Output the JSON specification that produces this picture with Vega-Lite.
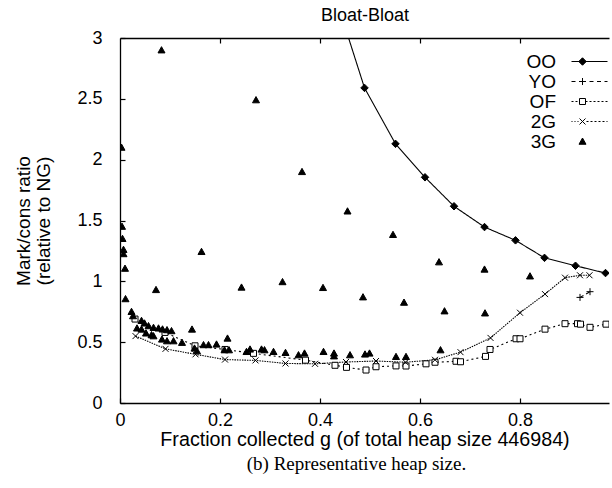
{
  "$schema": "https://vega.github.io/schema/vega-lite/v6.json",
  "width": 489,
  "height": 365,
  "autosize": {"type": "none"},
  "padding": {"left": 120, "top": 38, "right": 3, "bottom": 85},
  "title": {"text": "(b) Representative heap size.", "orient": "bottom", "font": "Liberation Serif", "fontSize": 19, "fontWeight": "normal", "color": "black", "anchor": "middle", "dx": -8, "offset": 6},
  "config": {
    "view": {"stroke": null},
    "axis": {"labelFont": "Liberation Sans", "titleFont": "Liberation Sans", "labelColor": "black", "titleColor": "black", "domainColor": "black", "tickColor": "black", "domainWidth": 1.3, "tickWidth": 1.2, "grid": false, "titleFontWeight": "normal", "labelFlush": false}
  },
  "data": {"values": [
    {"s": "OO", "x": 0.43, "y": 3.35}, {"s": "OO", "x": 0.489, "y": 2.59}, {"s": "OO", "x": 0.551, "y": 2.13}, {"s": "OO", "x": 0.61, "y": 1.855}, {"s": "OO", "x": 0.668, "y": 1.617}, {"s": "OO", "x": 0.729, "y": 1.446}, {"s": "OO", "x": 0.791, "y": 1.337}, {"s": "OO", "x": 0.849, "y": 1.193}, {"s": "OO", "x": 0.911, "y": 1.128}, {"s": "OO", "x": 0.971, "y": 1.068},
    {"s": "YO", "x": 0.92, "y": 0.868}, {"s": "YO", "x": 0.94, "y": 0.915},
    {"s": "OF", "x": 0.03, "y": 0.69}, {"s": "OF", "x": 0.09, "y": 0.58}, {"s": "OF", "x": 0.15, "y": 0.47}, {"s": "OF", "x": 0.21, "y": 0.44}, {"s": "OF", "x": 0.267, "y": 0.408}, {"s": "OF", "x": 0.371, "y": 0.352}, {"s": "OF", "x": 0.43, "y": 0.31}, {"s": "OF", "x": 0.453, "y": 0.293}, {"s": "OF", "x": 0.492, "y": 0.271}, {"s": "OF", "x": 0.512, "y": 0.298}, {"s": "OF", "x": 0.552, "y": 0.305}, {"s": "OF", "x": 0.572, "y": 0.304}, {"s": "OF", "x": 0.612, "y": 0.322}, {"s": "OF", "x": 0.63, "y": 0.335}, {"s": "OF", "x": 0.672, "y": 0.343}, {"s": "OF", "x": 0.681, "y": 0.339}, {"s": "OF", "x": 0.731, "y": 0.383}, {"s": "OF", "x": 0.74, "y": 0.44}, {"s": "OF", "x": 0.792, "y": 0.528}, {"s": "OF", "x": 0.8, "y": 0.528}, {"s": "OF", "x": 0.85, "y": 0.607}, {"s": "OF", "x": 0.89, "y": 0.652}, {"s": "OF", "x": 0.915, "y": 0.652}, {"s": "OF", "x": 0.921, "y": 0.648}, {"s": "OF", "x": 0.94, "y": 0.622}, {"s": "OF", "x": 0.972, "y": 0.648},
    {"s": "2G", "x": 0.031, "y": 0.55}, {"s": "2G", "x": 0.091, "y": 0.445}, {"s": "2G", "x": 0.151, "y": 0.4}, {"s": "2G", "x": 0.21, "y": 0.357}, {"s": "2G", "x": 0.271, "y": 0.35}, {"s": "2G", "x": 0.331, "y": 0.325}, {"s": "2G", "x": 0.39, "y": 0.322}, {"s": "2G", "x": 0.452, "y": 0.337}, {"s": "2G", "x": 0.512, "y": 0.345}, {"s": "2G", "x": 0.571, "y": 0.335}, {"s": "2G", "x": 0.63, "y": 0.355}, {"s": "2G", "x": 0.681, "y": 0.418}, {"s": "2G", "x": 0.741, "y": 0.535}, {"s": "2G", "x": 0.8, "y": 0.742}, {"s": "2G", "x": 0.85, "y": 0.895}, {"s": "2G", "x": 0.89, "y": 1.03}, {"s": "2G", "x": 0.92, "y": 1.05}, {"s": "2G", "x": 0.939, "y": 1.05},
    {"s": "3G", "x": 0.003, "y": 2.1}, {"s": "3G", "x": 0.004, "y": 1.45}, {"s": "3G", "x": 0.005, "y": 1.35}, {"s": "3G", "x": 0.007, "y": 1.26}, {"s": "3G", "x": 0.007, "y": 1.225}, {"s": "3G", "x": 0.01, "y": 1.105}, {"s": "3G", "x": 0.011, "y": 0.855},
    {"s": "3G", "x": 0.083, "y": 2.9}, {"s": "3G", "x": 0.072, "y": 0.93}, {"s": "3G", "x": 0.163, "y": 1.243}, {"s": "3G", "x": 0.243, "y": 0.95}, {"s": "3G", "x": 0.272, "y": 2.49}, {"s": "3G", "x": 0.325, "y": 0.995}, {"s": "3G", "x": 0.364, "y": 1.9}, {"s": "3G", "x": 0.406, "y": 0.947}, {"s": "3G", "x": 0.455, "y": 1.576}, {"s": "3G", "x": 0.486, "y": 0.87}, {"s": "3G", "x": 0.546, "y": 1.383}, {"s": "3G", "x": 0.568, "y": 0.826}, {"s": "3G", "x": 0.638, "y": 1.158}, {"s": "3G", "x": 0.649, "y": 0.755}, {"s": "3G", "x": 0.729, "y": 1.098}, {"s": "3G", "x": 0.73, "y": 0.738}, {"s": "3G", "x": 0.82, "y": 1.042},
    {"s": "3G", "x": 0.023, "y": 0.75}, {"s": "3G", "x": 0.026, "y": 0.715}, {"s": "3G", "x": 0.043, "y": 0.676}, {"s": "3G", "x": 0.049, "y": 0.655}, {"s": "3G", "x": 0.057, "y": 0.633}, {"s": "3G", "x": 0.067, "y": 0.619}, {"s": "3G", "x": 0.077, "y": 0.614}, {"s": "3G", "x": 0.085, "y": 0.606}, {"s": "3G", "x": 0.094, "y": 0.6}, {"s": "3G", "x": 0.103, "y": 0.592}, {"s": "3G", "x": 0.144, "y": 0.605},
    {"s": "3G", "x": 0.034, "y": 0.614}, {"s": "3G", "x": 0.043, "y": 0.605}, {"s": "3G", "x": 0.052, "y": 0.573}, {"s": "3G", "x": 0.063, "y": 0.559}, {"s": "3G", "x": 0.067, "y": 0.55}, {"s": "3G", "x": 0.084, "y": 0.523}, {"s": "3G", "x": 0.094, "y": 0.509}, {"s": "3G", "x": 0.107, "y": 0.509}, {"s": "3G", "x": 0.124, "y": 0.496}, {"s": "3G", "x": 0.149, "y": 0.449}, {"s": "3G", "x": 0.154, "y": 0.427}, {"s": "3G", "x": 0.167, "y": 0.477}, {"s": "3G", "x": 0.177, "y": 0.477}, {"s": "3G", "x": 0.193, "y": 0.482},
    {"s": "3G", "x": 0.215, "y": 0.531}, {"s": "3G", "x": 0.209, "y": 0.435}, {"s": "3G", "x": 0.218, "y": 0.435}, {"s": "3G", "x": 0.253, "y": 0.421}, {"s": "3G", "x": 0.26, "y": 0.441}, {"s": "3G", "x": 0.283, "y": 0.441}, {"s": "3G", "x": 0.289, "y": 0.435}, {"s": "3G", "x": 0.307, "y": 0.421}, {"s": "3G", "x": 0.331, "y": 0.413}, {"s": "3G", "x": 0.357, "y": 0.394}, {"s": "3G", "x": 0.369, "y": 0.408}, {"s": "3G", "x": 0.407, "y": 0.421}, {"s": "3G", "x": 0.428, "y": 0.408}, {"s": "3G", "x": 0.428, "y": 0.385}, {"s": "3G", "x": 0.46, "y": 0.394}, {"s": "3G", "x": 0.49, "y": 0.4}, {"s": "3G", "x": 0.499, "y": 0.408}, {"s": "3G", "x": 0.552, "y": 0.38}, {"s": "3G", "x": 0.572, "y": 0.38}, {"s": "3G", "x": 0.641, "y": 0.435}
  ]},
  "layer": [
    {
      "transform": [{"filter": "datum.s !== '3G'"}],
      "mark": {"type": "line", "clip": true, "color": "black", "strokeWidth": 1.1},
      "encoding": {
        "x": {"field": "x", "type": "quantitative", "scale": {"domain": [0, 0.978], "nice": false, "zero": false},
              "axis": {"orient": "bottom", "title": "Fraction collected g (of total heap size 446984)", "values": [0, 0.2, 0.4, 0.6, 0.8], "labelExpr": "'' + datum.value", "labelFontSize": 18, "titleFontSize": 19.7, "tickSize": -5, "labelPadding": 13, "titlePadding": 0}},
        "y": {"field": "y", "type": "quantitative", "scale": {"domain": [0, 3], "nice": false},
              "axis": {"title": ["Mark/cons ratio", "(relative to NG)"], "values": [0, 0.5, 1, 1.5, 2, 2.5, 3], "labelExpr": "'' + datum.value", "labelFontSize": 18, "titleFontSize": 19, "titleLineHeight": 20, "tickSize": -5, "labelPadding": 23, "titlePadding": 23}},
        "strokeDash": {"field": "s", "type": "nominal", "scale": {"domain": ["OO", "YO", "OF", "2G"], "range": [[1, 0], [4, 3], [2, 3], [1.5, 1]]}, "legend": null}
      }
    },
    {
      "mark": {"type": "point", "clip": true, "stroke": "black", "strokeWidth": 1, "size": 100, "opacity": 1},
      "encoding": {
        "x": {"field": "x", "type": "quantitative",
              "axis": {"orient": "top", "title": "Bloat-Bloat", "labels": false, "values": [0.2, 0.4, 0.6, 0.8], "tickSize": -5, "titleFontSize": 18, "titlePadding": 13}},
        "y": {"field": "y", "type": "quantitative"},
        "fill": {"field": "s", "type": "nominal", "scale": {"domain": ["OO", "YO", "OF", "2G", "3G"], "range": ["black", "black", "white", "black", "black"]}, "legend": null},
        "shape": {"field": "s", "type": "nominal",
                  "scale": {"domain": ["OO", "YO", "OF", "2G", "3G"], "range": ["M0,-0.75L0.75,0L0,0.75L-0.75,0Z", "M-0.7,0H0.7M0,-0.7V0.7", "M-0.6,-0.6H0.6V0.6H-0.6Z", "M-0.6,-0.6L0.6,0.6M-0.6,0.6L0.6,-0.6", "M-0.7,0.55L0,-0.7L0.7,0.55Z"]},
                  "legend": null}
      }
    },
    {
      "transform": [{"filter": "false"}],
      "mark": {"type": "point", "stroke": "black", "strokeWidth": 1, "size": 100, "opacity": 1},
      "encoding": {
        "fill": {"field": "s", "type": "nominal", "scale": {"domain": ["OO", "YO", "OF", "2G", "3G"], "range": ["black", "black", "white", "black", "black"]},
                 "legend": {"title": null, "orient": "none", "legendX": 406, "legendY": 14, "padding": 0, "labelFont": "Liberation Sans", "labelFontSize": 19, "labelColor": "black", "labelAlign": "right", "labelOffset": -36, "symbolOffset": 47, "symbolSize": 100, "rowPadding": -3.5, "symbolStrokeWidth": 1, "symbolOpacity": 1}},
        "shape": {"field": "s", "type": "nominal",
                  "scale": {"domain": ["OO", "YO", "OF", "2G", "3G"], "range": [
                    "M-2.2,0H5M0,-0.75L0.75,0L0,0.75L-0.75,0Z",
                    "M-2.2,0H-1.4M-0.7,0H0.7M1.4,0H2.2M2.9,0H3.7M4.4,0H5M0,-0.7V0.7",
                    "M-2.2,0H-1.8M-1.4,0H-1.0M0.6,0H1.0M1.4,0H1.8M2.2,0H2.6M3.0,0H3.4M3.8,0H4.2M4.6,0H5M-0.6,-0.6H0.6V0.6H-0.6Z",
                    "M-2.2,0H-2.0M-1.6,0H-1.4M-1.0,0H-0.8M0.8,0H1.2M1.6,0H2.0M2.4,0H2.8M3.2,0H3.6M4.0,0H4.4M4.8,0H5M-0.6,-0.6L0.6,0.6M-0.6,0.6L0.6,-0.6",
                    "M-0.7,0.55L0,-0.7L0.7,0.55Z"]},
                  "legend": {"title": null, "orient": "none", "legendX": 406, "legendY": 14, "padding": 0, "labelFont": "Liberation Sans", "labelFontSize": 19, "labelColor": "black", "labelAlign": "right", "labelOffset": -36, "symbolOffset": 47, "symbolSize": 100, "rowPadding": -3.5, "symbolStrokeWidth": 1, "symbolOpacity": 1,
                    "encode": {"symbols": {"stroke": {"value": "black"}, "strokeWidth": {"value": 1}, "opacity": {"value": 1}}}}}
      }
    }
  ],
  "resolve": {"axis": {"x": "independent"}, "scale": {"shape": "independent", "fill": "independent"}}
}
